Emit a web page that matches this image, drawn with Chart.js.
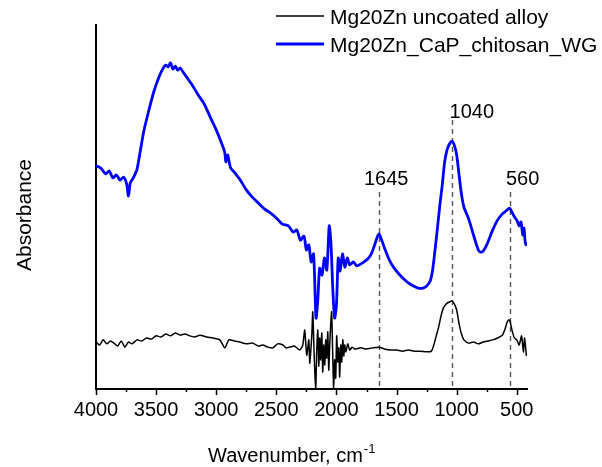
<!DOCTYPE html>
<html>
<head>
<meta charset="utf-8">
<script src="https://cdn.jsdelivr.net/npm/chart.js@4/dist/chart.umd.min.js"></script>
<style>
  html, body { margin: 0; padding: 0; background: #ffffff; }
  #wrap { width: 602px; height: 467px; }
</style>
</head>
<body>
<div id="wrap"><canvas id="ftir" width="602" height="467"></canvas></div>
<script>
// FTIR spectra: wavenumber (cm-1) and absorbance (arbitrary units)
const seriesNames = ['Mg20Zn uncoated alloy', 'Mg20Zn_CaP_chitosan_WG'];

const alloyWave = [
  4000,3970,3940,3910,3880,3850,3820,3790,3760,3730,
  3700,3660,3620,3580,3540,3500,3460,3420,3380,3340,
  3300,3260,3220,3180,3136,3080,3028,2970,2928,2895,
  2850,2804,2750,2696,2650,2613,2570,2529,2490,2446,
  2420,2388,2350,2305,2280,2264,2247,2230,2222,2205,
  2197,2188,2180,2172,2164,2155,2147,2139,2131,2122,
  2114,2106,2097,2089,2081,2072,2064,2056,2048,2040,
  2032,2023,2015,2006,1998,1989,1981,1973,1964,1956,
  1947,1939,1931,1922,1906,1890,1870,1848,1800,1750,
  1700,1645,1600,1550,1500,1450,1400,1350,1300,1250,
  1210,1190,1170,1150,1130,1110,1080,1060,1040,1020,
  1000,980,960,940,900,860,820,780,740,700,
  660,620,600,580,565,555,540,520,500,480,
  460,445,435,420
];
const alloyAbs = [
  0.129,0.121,0.135,0.124,0.132,0.126,0.118,0.132,0.115,0.129,
  0.124,0.135,0.132,0.140,0.137,0.146,0.143,0.151,0.146,0.154,
  0.148,0.151,0.146,0.143,0.148,0.143,0.140,0.135,0.113,0.135,
  0.132,0.129,0.124,0.126,0.118,0.121,0.115,0.113,0.124,0.121,
  0.113,0.115,0.118,0.107,0.121,0.162,0.093,0.135,0.071,0.148,
  0.212,0.121,0.047,0.003,0.107,0.162,0.063,0.140,0.080,0.154,
  0.047,0.121,0.066,0.135,0.085,0.157,0.052,0.121,0.176,0.212,
  0.107,0.000,0.080,0.030,0.146,0.074,0.113,0.033,0.121,0.074,
  0.135,0.091,0.121,0.102,0.124,0.107,0.115,0.110,0.113,0.110,
  0.113,0.115,0.110,0.107,0.107,0.104,0.107,0.104,0.104,0.102,
  0.104,0.121,0.146,0.170,0.201,0.223,0.236,0.239,0.242,0.234,
  0.217,0.179,0.151,0.135,0.126,0.129,0.124,0.129,0.132,0.135,
  0.140,0.148,0.162,0.184,0.190,0.184,0.162,0.140,0.135,0.121,
  0.146,0.102,0.140,0.091
];

const coatedWave = [
  4000,3960,3920,3890,3860,3830,3800,3770,3745,3730,
  3715,3690,3660,3630,3600,3560,3520,3480,3450,3420,
  3400,3380,3360,3340,3320,3300,3270,3240,3200,3150,
  3100,3050,3000,2960,2930,2920,2905,2880,2850,2800,
  2750,2700,2650,2600,2550,2500,2450,2400,2360,2330,
  2300,2270,2250,2230,2210,2190,2170,2155,2140,2120,
  2100,2080,2060,2045,2030,2015,2000,1985,1970,1950,
  1930,1910,1890,1860,1830,1800,1770,1740,1710,1680,
  1660,1645,1630,1600,1560,1520,1480,1440,1400,1360,
  1320,1280,1250,1220,1200,1180,1160,1140,1120,1100,
  1080,1060,1040,1020,1000,980,960,940,900,860,
  820,800,780,750,700,660,620,590,560,540,
  520,500,480,465,450,440,430,420
];
const coatedAbs = [
  0.613,0.607,0.591,0.599,0.580,0.588,0.574,0.582,0.563,0.530,
  0.566,0.580,0.602,0.657,0.712,0.766,0.816,0.854,0.876,0.890,
  0.885,0.896,0.879,0.887,0.876,0.882,0.868,0.854,0.835,0.808,
  0.783,0.747,0.712,0.679,0.651,0.624,0.643,0.607,0.596,0.574,
  0.547,0.527,0.511,0.495,0.484,0.470,0.453,0.448,0.431,0.437,
  0.409,0.420,0.382,0.396,0.349,0.371,0.195,0.245,0.332,0.313,
  0.360,0.327,0.448,0.396,0.272,0.195,0.231,0.360,0.324,0.371,
  0.335,0.360,0.341,0.349,0.338,0.343,0.349,0.357,0.371,0.398,
  0.418,0.426,0.415,0.387,0.354,0.332,0.316,0.302,0.291,0.283,
  0.277,0.277,0.283,0.297,0.327,0.382,0.442,0.505,0.560,0.624,
  0.657,0.673,0.681,0.670,0.643,0.588,0.535,0.500,0.467,0.423,
  0.382,0.376,0.379,0.396,0.437,0.464,0.481,0.489,0.497,0.486,
  0.473,0.464,0.448,0.459,0.423,0.442,0.404,0.393
];

// Assigned bands marked with dashed guides
const bandPeaks = [1645, 1040, 560];

const FONT = '"Liberation Sans", Arial, sans-serif';

const toPoints = (xs, ys) => xs.map((x, i) => ({ x: x, y: ys[i] }));

// Guide styling per band: top of the dashed line (in absorbance units) and label offsets (px)
const guideStyle = {
  1645: { top: 0.541, dx: 7,  dy: -7 },
  1040: { top: 0.739, dx: 20, dy: -2 },
  560:  { top: 0.541, dx: 13, dy: -7 }
};

const decor = {
  id: 'decor',
  beforeDatasetsDraw(chart) {
    const { ctx, scales: { x, y } } = chart;
    ctx.save();
    ctx.strokeStyle = '#555555';
    ctx.lineWidth = 1.4;
    ctx.setLineDash([5, 4]);
    bandPeaks.forEach(w => {
      const px = Math.round(x.getPixelForValue(w)) + 0.5;
      ctx.beginPath();
      ctx.moveTo(px, y.getPixelForValue(guideStyle[w].top));
      ctx.lineTo(px, y.getPixelForValue(0));
      ctx.stroke();
    });
    ctx.restore();
  },
  afterDraw(chart) {
    const { ctx, chartArea, scales: { x, y } } = chart;
    ctx.save();
    ctx.fillStyle = '#000000';
    ctx.strokeStyle = '#000000';

    // major / minor tick marks below the wavenumber axis
    ctx.lineWidth = 1.5;
    for (let w = 500; w <= 4000; w += 250) {
      const px = Math.round(x.getPixelForValue(w)) + 0.5;
      const len = (w % 500 === 0) ? 6 : 3;
      ctx.beginPath();
      ctx.moveTo(px, chartArea.bottom);
      ctx.lineTo(px, chartArea.bottom + len);
      ctx.stroke();
    }

    // band labels
    ctx.font = '20px ' + FONT;
    ctx.textAlign = 'center';
    ctx.textBaseline = 'alphabetic';
    bandPeaks.forEach(w => {
      const g = guideStyle[w];
      ctx.fillText(String(w), x.getPixelForValue(w) + g.dx, y.getPixelForValue(g.top) + g.dy);
    });

    // legend
    const legendRows = [
      { name: seriesNames[0], color: '#000000', width: 1.6, yLine: 16 },
      { name: seriesNames[1], color: '#0000ff', width: 3,   yLine: 44 }
    ];
    ctx.font = '21px ' + FONT;
    ctx.textAlign = 'left';
    legendRows.forEach(r => {
      ctx.strokeStyle = r.color;
      ctx.lineWidth = r.width;
      ctx.beginPath();
      ctx.moveTo(276, r.yLine);
      ctx.lineTo(324, r.yLine);
      ctx.stroke();
      ctx.fillStyle = '#000000';
      ctx.fillText(r.name, 330, r.yLine + 8);
    });

    // x axis title with superscript
    ctx.font = '20px ' + FONT;
    ctx.textAlign = 'left';
    const main = 'Wavenumber, cm';
    ctx.fillText(main, 208, 462);
    const mw = ctx.measureText(main).width;
    ctx.font = '13px ' + FONT;
    ctx.fillText('-1', 208 + mw + 1, 453);

    // y axis title
    ctx.font = '21px ' + FONT;
    ctx.translate(31, 215);
    ctx.rotate(-Math.PI / 2);
    ctx.textAlign = 'center';
    ctx.fillText('Absorbance', 0, 0);
    ctx.restore();
  }
};

new Chart(document.getElementById('ftir'), {
  type: 'line',
  data: {
    datasets: [
      {
        label: seriesNames[1],
        data: toPoints(coatedWave, coatedAbs),
        borderColor: '#0000ff',
        borderWidth: 2.8,
        pointRadius: 0,
        tension: 0.25,
        order: 0
      },
      {
        label: seriesNames[0],
        data: toPoints(alloyWave, alloyAbs),
        borderColor: '#000000',
        borderWidth: 1.5,
        pointRadius: 0,
        tension: 0.2,
        order: 1
      }
    ]
  },
  options: {
    responsive: false,
    animation: false,
    layout: { padding: { left: 0, right: 75, top: 25, bottom: 0 } },
    plugins: { legend: { display: false }, tooltip: { enabled: false } },
    scales: {
      x: {
        type: 'linear',
        reverse: true,
        min: 415,
        max: 4000,
        grid: { display: false, drawTicks: false },
        border: { display: true, color: '#000000', width: 2 },
        ticks: {
          stepSize: 250,
          includeBounds: false,
          autoSkip: false,
          maxRotation: 0,
          padding: 9,
          color: '#000000',
          font: { family: FONT, size: 20 },
          callback: v => (v % 500 === 0 ? String(v) : '')
        },
        afterFit: s => { s.height = 78; }
      },
      y: {
        min: 0,
        max: 1,
        grid: { display: false, drawTicks: false },
        border: { display: true, color: '#000000', width: 2 },
        ticks: { display: false },
        afterFit: s => { s.width = 96; }
      }
    }
  },
  plugins: [decor]
});
</script>
</body>
</html>
